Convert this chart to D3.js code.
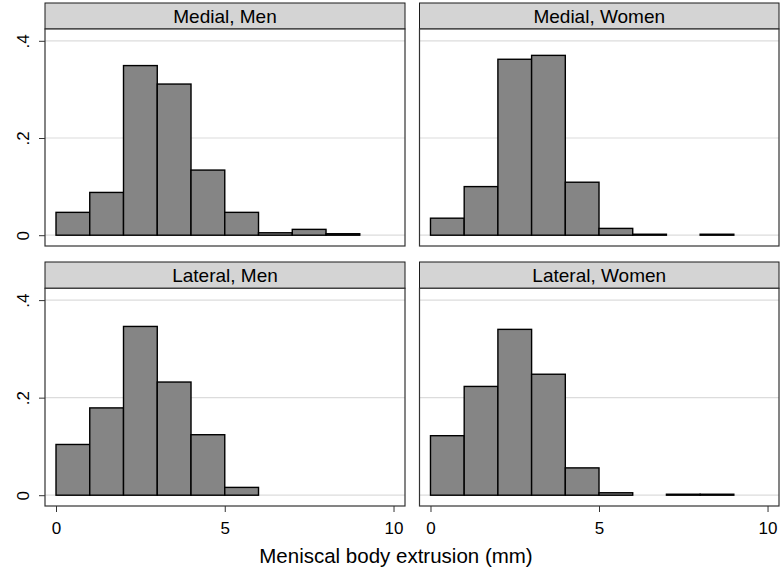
<!DOCTYPE html>
<html>
<head>
<meta charset="utf-8">
<script src="https://cdn.jsdelivr.net/npm/d3@7"></script>
<style>
  html, body { margin: 0; padding: 0; background: #fff; }
  svg { display: block; }
  text { font-family: "Liberation Sans", Arial, sans-serif; fill: #000; }
</style>
</head>
<body>
<svg id="chart" width="780" height="568"></svg>
<script>
// ---- Data ----
const binEdges = [0, 1, 2, 3, 4, 5, 6, 7, 8, 9];
const panelTitles = ["Medial, Men", "Medial, Women", "Lateral, Men", "Lateral, Women"];
const medialMen     = [0.047, 0.088, 0.349, 0.311, 0.134, 0.047, 0.005, 0.012, 0.003];
const medialWomen   = [0.035, 0.100, 0.362, 0.370, 0.109, 0.014, 0.002, 0, 0.002];
const lateralMen    = [0.104, 0.179, 0.346, 0.232, 0.124, 0.016, 0, 0, 0];
const lateralWomen  = [0.122, 0.223, 0.340, 0.248, 0.056, 0.005, 0, 0.002, 0.002];
const xTicks = [0, 5, 10];
const yTicks = [0, 0.2, 0.4];
const yTickLabels = ["0", ".2", ".4"];
const xTitle = "Meniscal body extrusion (mm)";

const seriesList = [medialMen, medialWomen, lateralMen, lateralWomen];

const svg = d3.select("#chart");

// panel layout
const cols = [{x0: 45, x1: 405}, {x0: 419.5, x1: 779}];
const rows = [{hTop: 3, hBot: 29, pBot: 246}, {hTop: 262, hBot: 288.3, pBot: 506}];

function panel(i) {
  const c = cols[i % 2], r = rows[Math.floor(i / 2)];
  const g = svg.append("g");
  const x = d3.scaleLinear().domain([-0.326, 10.34]).range([c.x0, c.x1]);
  const y = d3.scaleLinear().domain([0, 0.4]).range([r.pBot - 10.8, r.hBot + 11.8]);

  // header
  g.append("rect").attr("x", c.x0).attr("y", r.hTop).attr("width", c.x1 - c.x0).attr("height", r.hBot - r.hTop)
    .attr("fill", "#d4d4d4").attr("stroke", "#1a1a1a").attr("stroke-width", 1);
  g.append("text").attr("x", (c.x0 + c.x1) / 2).attr("y", (r.hTop + r.hBot) / 2 + 6.5)
    .attr("text-anchor", "middle").attr("font-size", 19).text(panelTitles[i]);

  // plot area
  g.append("rect").attr("x", c.x0).attr("y", r.hBot).attr("width", c.x1 - c.x0).attr("height", r.pBot - r.hBot)
    .attr("fill", "#fff").attr("stroke", "none");

  // gridlines
  g.selectAll(".grid").data(yTicks).enter().append("line")
    .attr("x1", c.x0).attr("x2", c.x1).attr("y1", d => y(d)).attr("y2", d => y(d))
    .attr("stroke", "#dcdcdc").attr("stroke-width", 1.2);

  // bars
  const data = seriesList[i].map((v, k) => ({x0: binEdges[k], x1: binEdges[k] + 1, v}));
  g.selectAll(".bar").data(data.filter(d => d.v > 0)).enter().append("rect")
    .attr("x", d => x(d.x0)).attr("width", d => x(d.x1) - x(d.x0))
    .attr("y", d => y(d.v)).attr("height", d => y(0) - y(d.v))
    .attr("fill", "#858585").attr("stroke", "#000").attr("stroke-width", 1.4);

  // box outline
  g.append("rect").attr("x", c.x0).attr("y", r.hBot).attr("width", c.x1 - c.x0).attr("height", r.pBot - r.hBot)
    .attr("fill", "none").attr("stroke", "#333").attr("stroke-width", 1.2);

  // y axis (left column)
  if (i % 2 === 0) {
    const ya = d3.axisLeft(y).tickValues(yTicks).tickSize(6).tickFormat((d, k) => yTickLabels[k]);
    const ag = g.append("g").attr("transform", `translate(${c.x0},0)`).call(ya);
    ag.select(".domain").remove();
    ag.selectAll(".tick line").attr("stroke", "#333");
    ag.selectAll(".tick text")
      .attr("font-size", 17).attr("font-family", "Liberation Sans, Arial, sans-serif")
      .attr("text-anchor", "middle").attr("x", null)
      .attr("transform", "translate(-22,0) rotate(-90)")
      .attr("y", 0).attr("dy", "0.35em").attr("fill", "#000");
  }
  // x axis (bottom row)
  if (i >= 2) {
    const xa = d3.axisBottom(x).tickValues(xTicks).tickSize(6).tickFormat(d3.format("d"));
    const ag = g.append("g").attr("transform", `translate(0,${r.pBot})`).call(xa);
    ag.select(".domain").remove();
    ag.selectAll(".tick line").attr("stroke", "#333");
    ag.selectAll(".tick text").attr("font-size", 17).attr("font-family", "Liberation Sans, Arial, sans-serif")
      .attr("fill", "#000").attr("y", 15.5);
  }
}

for (let i = 0; i < 4; i++) panel(i);

svg.append("text").attr("x", 396).attr("y", 563).attr("text-anchor", "middle")
  .attr("font-size", 20.5).text(xTitle);
</script>
</body>
</html>
